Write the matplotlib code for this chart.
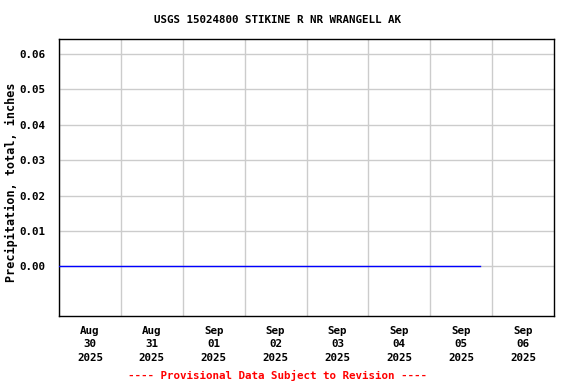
import matplotlib
matplotlib.use("Agg")
import matplotlib.pyplot as plt
import matplotlib.dates as mdates
import numpy as np
import datetime as dt

title = "USGS 15024800 STIKINE R NR WRANGELL AK"
ylabel = "Precipitation, total, inches"
footer = "---- Provisional Data Subject to Revision ----"

series_start = dt.datetime(2025, 8, 30, 0, 0)
series_end = dt.datetime(2025, 9, 5, 19, 15)
series_values = [0.0, 0.0]

day_ticks = [dt.datetime(2025, 8, 30) + dt.timedelta(days=i) for i in range(8)]
day_labels = ["Aug\n30\n2025", "Aug\n31\n2025", "Sep\n01\n2025", "Sep\n02\n2025",
              "Sep\n03\n2025", "Sep\n04\n2025", "Sep\n05\n2025", "Sep\n06\n2025"]
y_ticks = [0.00, 0.01, 0.02, 0.03, 0.04, 0.05, 0.06]
y_labels = ["0.00", "0.01", "0.02", "0.03", "0.04", "0.05", "0.06"]

plt.rcParams['font.family'] = ['DejaVu Sans Mono']
plt.rcParams['font.weight'] = 'bold'
fs = 7.8

fig = plt.figure(figsize=(5.76, 3.84), dpi=100)
W, H = 576, 384
left, right, top, bottom = 59, 554, 39, 316
ax = fig.add_axes([left / W, 1 - bottom / H, (right - left) / W, (bottom - top) / H])

ax.plot([series_start, series_end], series_values, color="#0000ff", linewidth=1.0, zorder=3)

ax.set_xlim(day_ticks[0], day_ticks[-1] + dt.timedelta(days=1))
ax.set_ylim(-0.0140, 0.0642)

ax.set_xticks(day_ticks)
ax.set_xticklabels([])
ax.set_xticks([d + dt.timedelta(hours=12) for d in day_ticks], minor=True)
ax.set_xticklabels(day_labels, minor=True, fontsize=fs, fontweight='bold', linespacing=1.45)
ax.tick_params(axis='x', which='both', length=0, pad=7)

ax.set_yticks(y_ticks)
ax.set_yticklabels(y_labels, fontsize=fs, fontweight='bold')
ax.tick_params(axis='y', length=0, pad=10)

ax.grid(True, which='major', color="#cccccc", linewidth=1.0)
ax.set_axisbelow(True)
for s in ax.spines.values():
    s.set_color("black")
    s.set_linewidth(1.0)

fig.text(278 / W, 1 - 20 / H, title, ha='center', va='center', fontsize=fs, fontweight='bold')
fig.text(11 / W, 1 - 182 / H, ylabel, ha='center', va='center', rotation=90, fontsize=8.5, fontweight='bold')
fig.text(278 / W, 1 - 375 / H, footer, ha='center', va='center', fontsize=fs, fontweight='bold', color="red")

fig.savefig("out.png", dpi=100)
